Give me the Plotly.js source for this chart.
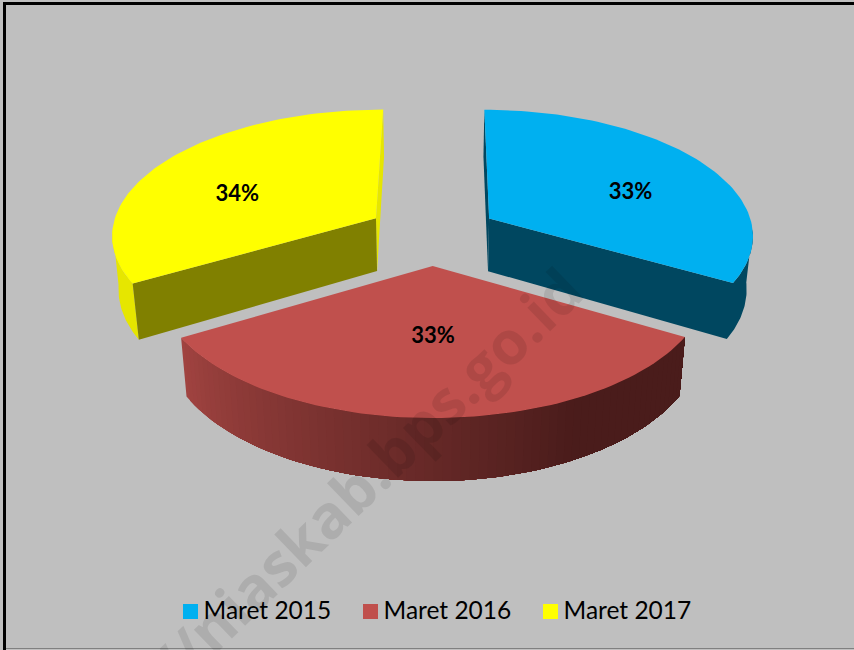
<!DOCTYPE html>
<html>
<head>
<meta charset="utf-8">
<script src="https://cdn.plot.ly/plotly-3.0.1.min.js"></script>
<style>html,body{margin:0;padding:0;background:#fff}#chart{width:854px;height:650px}</style>
</head>
<body>
<div id="chart"></div>
<script>
const categories = ['Maret 2015', 'Maret 2016', 'Maret 2017'];
const shares = [33.25, 33.25, 33.5];

// Appearance of the tilted, exploded pie
const topColors = ['#00B0F0', '#C0504D', '#FFFF00'];
const frontColors = ['#004760', '#9E413F', '#808000'];
const sideColors = ['#004760', null, '#E6E600'];
const START = 0.3, EXPLODE = 0.25, PERSP = 0.12, DEPTH_SHRINK = 0.02;
const CX = 432.5, CY = 233.8, AX = 265, AY = 125.3, AZ = 53.5;
const rad = d => d * Math.PI / 180;

function project(X, Y, z) {
  const w = 1 + PERSP * Y;
  return [CX + AX * X / (w + DEPTH_SHRINK * z), CY + (-AY * Y + AZ * z) / w];
}
const total = shares.reduce((a, b) => a + b, 0);
let run = START;
const slices = shares.map(v => {
  const a0 = run, a1 = run + v / total * 360;
  run = a1;
  const mid = (a0 + a1) / 2;
  return {a0, a1, mid, ox: EXPLODE * Math.sin(rad(mid)), oy: EXPLODE * Math.cos(rad(mid))};
});
const rim = (s, a, z) => project(s.ox + Math.sin(rad(a)), s.oy + Math.cos(rad(a)), z);
const apex = (s, z) => project(s.ox, s.oy, z);

const traces = [];
function poly(points, color, name) {
  const closed = points.concat([points[0]]);
  traces.push({
    type: 'scatter', mode: 'lines', fill: 'toself', fillcolor: color,
    x: closed.map(p => p[0]), y: closed.map(p => p[1]),
    line: {width: 0}, hoverinfo: 'skip', showlegend: false, name: name || ''
  });
}
function arcAngles(a0, a1, n) {
  const out = [];
  for (let i = 0; i <= n; i++) out.push(a0 + (a1 - a0) * i / n);
  return out;
}
function mix(c0, c1, t) {
  return 'rgb(' + c0.map((c, i) => Math.round(c + (c1[i] - c) * t)).join(',') + ')';
}

// Blue and yellow at the back, then red in front
[0, 2, 1].forEach(i => {
  const s = slices[i];
  const angles = arcAngles(s.a0, s.a1, 80);
  if (i === 1) {
    // Outer wall of the red slice, shaded left to right; each band paints over the rest of the arc
    const dark = [74, 28, 27], light = [160, 67, 64];
    const steps = arcAngles(s.a1, s.a0, 70);
    for (let k = 0; k < steps.length - 1; k++) {
      const t = k / (steps.length - 1);
      const col = mix(light, dark, Math.min(1, t / 0.72));
      const rest = steps.slice(k);
      poly(rest.map(a => rim(s, a, 0)).concat(rest.slice().reverse().map(a => rim(s, a, 1))), col);
    }
  } else if (i === 0) {
    // Far inner wall, then near inner wall and outer wall as one dark shape
    poly([apex(s, 0), apex(s, 1), rim(s, s.a0, 1), rim(s, s.a0, 0)], frontColors[i]);
    const vis = arcAngles(s.a1, 95, 40);
    poly([apex(s, 0), apex(s, 1)]
      .concat(vis.map(a => rim(s, a, 1)))
      .concat(vis.slice().reverse().map(a => rim(s, a, 0))), frontColors[i]);
  } else {
    const vis = arcAngles(s.a0, 265, 40);
    poly(vis.map(a => rim(s, a, 0)).concat(vis.slice().reverse().map(a => rim(s, a, 1))), sideColors[i]);
    poly([apex(s, 0), apex(s, 1), rim(s, s.a1, 1), rim(s, s.a1, 0)], sideColors[i]);
    poly([apex(s, 0), apex(s, 1), rim(s, s.a0, 1), rim(s, s.a0, 0)], frontColors[i]);
  }
  // Top face
  poly([apex(s, 0)].concat(angles.map(a => rim(s, a, 0))), topColors[i], categories[i]);
});

// Percentage labels on the top faces
const labelRadius = [0.6, 0.5, 0.58];
const labelTurn = [9, 0, -11];
const labelPoint = (s, i) => project(
  s.ox + labelRadius[i] * Math.sin(rad(s.mid + labelTurn[i])),
  s.oy + labelRadius[i] * Math.cos(rad(s.mid + labelTurn[i])), 0);
traces.push({
  type: 'scatter', mode: 'text', hoverinfo: 'skip', showlegend: false,
  x: slices.map((s, i) => labelPoint(s, i)[0]),
  y: slices.map((s, i) => labelPoint(s, i)[1]),
  text: shares.map(v => Math.round(v / total * 100) + '%'),
  textposition: 'middle center',
  textfont: {family: 'Lato, sans-serif', size: 22, color: '#000', weight: 700}
});

// Legend row
const LEG_X = [190.5, 370.5, 550.5], LEG_Y = 611.5;
categories.forEach((c, i) => {
  traces.push({
    type: 'scatter', mode: 'markers', name: c, showlegend: false, hoverinfo: 'skip',
    x: [LEG_X[i]], y: [LEG_Y],
    marker: {symbol: 'square', size: 15, color: topColors[i], line: {width: 0}}
  });
  traces.push({
    type: 'scatter', mode: 'text', name: c, showlegend: false, hoverinfo: 'skip',
    x: [LEG_X[i] + 13], y: [LEG_Y + 1],
    text: [c], textposition: 'middle right',
    textfont: {family: 'Lato, sans-serif', size: 24.5, color: '#000'}
  });
});

const layout = {
  width: 854, height: 650, margin: {l: 0, r: 0, t: 0, b: 0},
  paper_bgcolor: '#FFFFFF', plot_bgcolor: '#BFBFBF', showlegend: false,
  xaxis: {range: [0, 854], visible: false, fixedrange: true},
  yaxis: {range: [650, 0], visible: false, fixedrange: true},
  shapes: [
    {type: 'line', xref: 'x', yref: 'y', x0: 4.5, x1: 4.5, y0: 2, y1: 650, line: {color: '#000', width: 3}},
    {type: 'line', xref: 'x', yref: 'y', x0: 3, x1: 854, y0: 3.5, y1: 3.5, line: {color: '#000', width: 3}},
    {type: 'line', xref: 'x', yref: 'y', x0: 6, x1: 854, y0: 648.5, y1: 648.5, line: {color: '#808080', width: 1}}
  ],
  annotations: [{
    xref: 'x', yref: 'y', x: 366, y: 477, text: '//niaskab.bps.go.id', showarrow: false,
    textangle: -44, xanchor: 'center', yanchor: 'middle',
    font: {family: 'Open Sans, sans-serif', size: 60, color: 'rgba(0,0,0,0.095)', weight: 700}
  }]
};
Plotly.newPlot('chart', traces, layout, {displayModeBar: false, staticPlot: true});
</script>
</body>
</html>
